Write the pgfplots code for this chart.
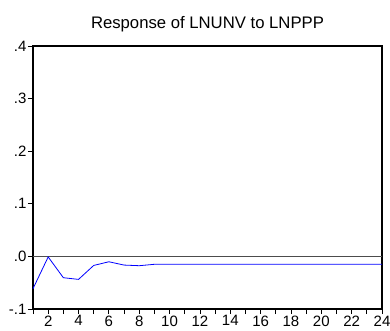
\documentclass[border=0pt]{standalone}
\usepackage{pgfplots}
\pgfplotsset{compat=1.18}
\usepackage{fontspec}
\setmainfont{Liberation Sans}
\begin{document}
\begin{tikzpicture}
\useasboundingbox (-33pt,-22pt) rectangle (357pt,309pt);
\begin{axis}[
  at={(0,0)}, anchor=south west,
  scale only axis, width=349pt, height=263pt,
  xmin=1, xmax=24, ymin=-0.1, ymax=0.4,
  axis line style={line width=1.2pt},
  tick align=outside,
  xtick pos=bottom, ytick pos=left,
  xtick={2,4,...,24}, minor xtick={1,3,...,23},
  ytick={-0.1,0,0.1,0.2,0.3,0.4},
  yticklabels={-.1,.0,.1,.2,.3,.4},
  major tick length=5pt, minor tick length=5pt,
  every tick/.style={black, line width=0.8pt},
  /pgf/number format/assume math mode=true,
  tick label style={font=\fontsize{15}{17}\selectfont},
  xticklabel style={yshift=2pt},
  yticklabel style={xshift=2pt},
  title={Response of LNUNV to LNPPP},
  title style={font=\fontsize{16.7}{19}\selectfont, yshift=5pt},
  clip=false,
]
\addplot[gray!60!black, line width=0.8pt, forget plot] coordinates {(1,0) (24,0)};
\addplot[blue, line width=0.8pt] coordinates {
(1,-0.0614) (2,-0.0010) (3,-0.0405) (4,-0.0437) (5,-0.0172) (6,-0.0102)
(7,-0.0165) (8,-0.0177) (9,-0.0150) (10,-0.0148) (11,-0.0148) (12,-0.0148)
(13,-0.0148) (14,-0.0148) (15,-0.0148) (16,-0.0148) (17,-0.0148) (18,-0.0148)
(19,-0.0148) (20,-0.0148) (21,-0.0148) (22,-0.0148) (23,-0.0148) (24,-0.0148)};
\end{axis}
\end{tikzpicture}
\end{document}
